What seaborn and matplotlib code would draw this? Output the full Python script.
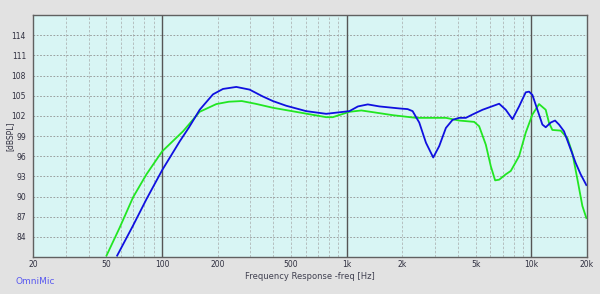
import numpy as np
import pandas as pd
import matplotlib
matplotlib.use("Agg")
import matplotlib.pyplot as plt
import seaborn as sns

# ---- data ----
blue_freq = [57.1, 69.7, 82.3, 100, 124.6, 140, 159.8, 188.7, 213.7, 252.3, 297.8, 350,
             398, 470, 603, 773.5, 1034, 1150, 1300, 1502, 1926, 2137, 2273, 2470, 2685,
             2940, 3168, 3443, 3741, 4064, 4416, 4799, 5434, 6687, 7265, 7894, 8576,
             9317, 9714, 10127, 10777, 11467, 11953, 12722, 13428, 14111, 15016, 16322,
             17362, 18483, 19836]
blue_db = [81.2, 85.7, 89.6, 93.9, 98.2, 100.3, 102.9, 105.2, 106.0, 106.3, 105.9, 104.9,
           104.2, 103.5, 102.7, 102.3, 102.7, 103.4, 103.7, 103.4, 103.1, 103.0, 102.7,
           101.0, 98.0, 95.8, 97.5, 100.2, 101.4, 101.7, 101.7, 102.2, 102.9, 103.8,
           102.9, 101.5, 103.4, 105.5, 105.6, 105.1, 102.9, 100.7, 100.3, 101.0, 101.3,
           100.7, 99.7, 97.0, 95.0, 93.3, 91.7]

green_freq = [50.0, 59.0, 69.7, 82.3, 100, 129.9, 159.8, 196.7, 230, 270, 320, 398,
              554.8, 773.5, 840, 1034, 1200, 1502, 1773, 2370, 3443, 4064, 4900, 5212,
              5665, 6028, 6361, 6687, 7265, 7731, 8576, 9317, 10127, 11002, 11953,
              12459, 12986, 14406, 15648, 16652, 17734, 18878, 19836]
green_db = [81.2, 85.4, 89.9, 93.3, 96.7, 99.7, 102.6, 103.75, 104.1, 104.2, 103.8, 103.2,
            102.5, 101.8, 101.8, 102.6, 102.8, 102.4, 102.1, 101.7, 101.7, 101.3, 101.1,
            100.45, 97.7, 94.5, 92.4, 92.5, 93.3, 93.8, 96.0, 99.5, 102.2, 103.75, 102.9,
            100.95, 99.9, 99.8, 98.7, 96.5, 92.6, 88.6, 86.8]

x_ticks = [20, 50, 100, 200, 500, 1000, 2000, 5000, 10000, 20000]
x_tick_labels = ["20", "50", "100", "200", "500", "1k", "2k", "5k", "10k", "20k"]
y_ticks = [84, 87, 90, 93, 96, 99, 102, 105, 108, 111, 114]

df = pd.concat([
    pd.DataFrame({"freq": green_freq, "db": green_db, "series": "green"}),
    pd.DataFrame({"freq": blue_freq, "db": blue_db, "series": "blue"}),
])

fig = plt.figure(figsize=(6.0, 2.94), dpi=100, facecolor="#e2e2e2")
ax = fig.add_axes([33 / 600, 1 - 257 / 294, (587 - 33) / 600, (257 - 15) / 294])
ax.set_facecolor("#d8f5f4")

sns.lineplot(data=df, x="freq", y="db", hue="series",
             palette={"green": "#22e622", "blue": "#1010e0"},
             linewidth=1.3, ax=ax, legend=False, sort=False, estimator=None)

ax.set_xscale("log")
ax.set_xlim(20, 20000)
ax.set_ylim(81, 117)

# minor vertical grid
minor = [m * d for d in (10, 100, 1000) for m in range(2, 10)]
minor = [v for v in minor if 20 < v < 20000]
for v in minor:
    ax.axvline(v, color="#b0b8b8", lw=0.6, ls=(0, (3, 2)), zorder=0.5)
for v in (100, 1000, 10000):
    ax.axvline(v, color="#555555", lw=1.0, zorder=0.6)
for v in y_ticks:
    ax.axhline(v, color="#909090", lw=0.6, ls=(0, (2, 2)), zorder=0.5)

ax.set_xticks(x_ticks)
ax.set_xticklabels(x_tick_labels)
ax.xaxis.set_minor_locator(matplotlib.ticker.NullLocator())
ax.set_yticks(y_ticks)
ax.set_yticklabels([str(v) for v in y_ticks])
ax.tick_params(axis="both", length=0, labelsize=5.5, colors="#303040", pad=2)
ax.tick_params(axis="y", pad=5)

for s in ax.spines.values():
    s.set_color("#606060")
    s.set_linewidth(1.0)

ax.set_xlabel("Frequency Response -freq [Hz]", fontsize=6, color="#404050", labelpad=2)
ax.set_ylabel("[dBSPL]", fontsize=5.5, color="#303040")
ax.yaxis.set_label_coords(-0.033, 0.5)

fig.text(16 / 600, 1 - 282 / 294, "OmniMic", fontsize=6.5, color="#5a5af0",
         ha="left", va="center")

fig.savefig("out.png", dpi=100, facecolor=fig.get_facecolor())
